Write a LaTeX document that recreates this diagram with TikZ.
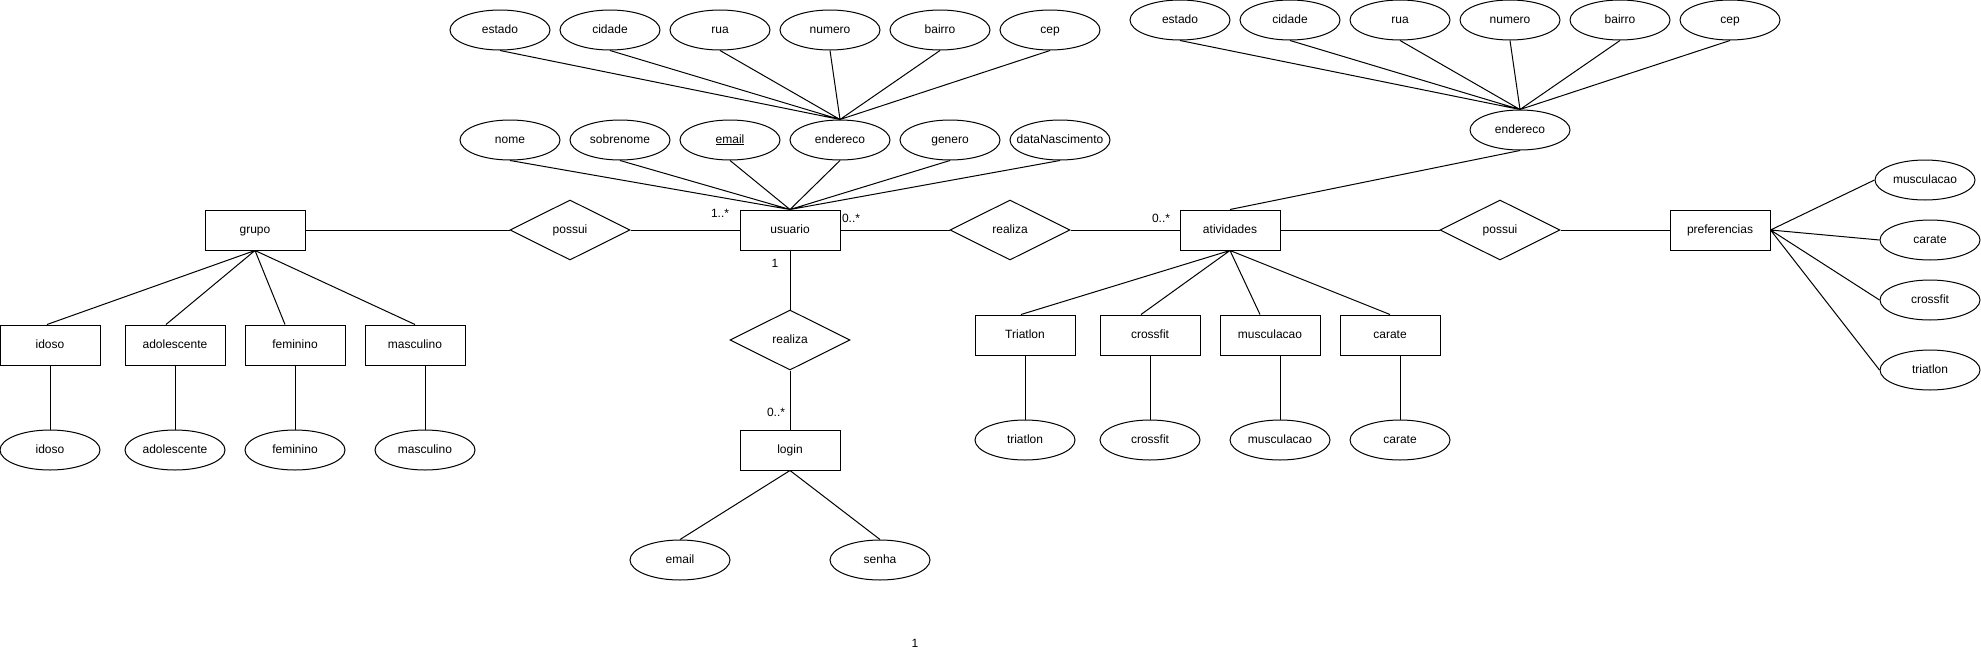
\documentclass[tikz,border=0pt]{standalone}
\usepackage{fontspec}
\setmainfont{Liberation Sans}
\usepackage{tikz}
\usetikzlibrary{shapes}

\begin{document}
\begin{tikzpicture}[x=1pt,y=-1pt,line width=1pt,
	every node/.style={font=\fontsize{12}{14}\selectfont,text height=8.6pt,text depth=2.5pt},
	entity/.style={draw,rectangle,minimum width=100pt,minimum height=40pt,inner sep=0pt},
	attrib/.style={draw,ellipse,minimum width=100pt,minimum height=40pt,inner sep=0pt,
		execute at begin node=\hbox to 0pt\bgroup\hss,
		execute at end node=\hss\egroup},
	relation/.style={draw,diamond,aspect=2,minimum width=120pt,minimum height=60pt,inner sep=0pt},
	card/.style={inner sep=0pt}]

	\useasboundingbox (0,0) rectangle (1981,653);

	% Draw entities and relations
	\node[entity] (grupo) at (255,230) {grupo};
	\node[relation] (possuiA) at (570,230) {possui};
	\node[entity] (usuario) at (790,230) {usuario};
	\node[relation] (realizaA) at (1010,230) {realiza};
	\node[entity] (atividades) at (1230,230) {atividades};
	\node[relation] (possuiB) at (1500,230) {possui};
	\node[entity] (preferencias) at (1720,230) {preferencias};
	\node[relation] (realizaB) at (790,340) {realiza};
	\node[entity] (login) at (790,450) {login};

	\draw (grupo.east) -- (possuiA.west) (possuiA.east) -- (usuario.west);
	\draw (usuario.east) -- (realizaA.west) (realizaA.east) -- (atividades.west);
	\draw (atividades.east) -- (possuiB.west) (possuiB.east) -- (preferencias.west);
	\draw (usuario.south) -- (realizaB.north) (realizaB.south) -- (login.north);

	% Draw cardinalities
	\node[card] (cUsuGrp) at (720,214) {1..*};
	\node[card] (cUsuAtv) at (851,219) {0..*};
	\node[card] (cAtvUsu) at (1161,219) {0..*};
	\node[card] (cUsuLog) at (775,264) {1};
	\node[card] (cLogUsu) at (776,413) {0..*};
	\node[card] (cLoose) at (915,644) {1};

	% Draw usuario attributes
	\node[attrib] (uNome) at (510,140) {nome};
	\node[attrib] (uSobrenome) at (620,140) {sobrenome};
	\node[attrib] (uEmail) at (730,140) {\underline{email}};
	\node[attrib] (uEndereco) at (840,140) {endereco};
	\node[attrib] (uGenero) at (950,140) {genero};
	\node[attrib] (uNascimento) at (1060,140) {dataNascimento};
	\draw (uNome.south) -- (usuario.north) (uSobrenome.south) -- (usuario.north)
		(uEmail.south) -- (usuario.north) (uEndereco.south) -- (usuario.north)
		(uGenero.south) -- (usuario.north) (uNascimento.south) -- (usuario.north);

	% Draw usuario endereco
	\node[attrib] (uEstado) at (500,30) {estado};
	\node[attrib] (uCidade) at (610,30) {cidade};
	\node[attrib] (uRua) at (720,30) {rua};
	\node[attrib] (uNumero) at (830,30) {numero};
	\node[attrib] (uBairro) at (940,30) {bairro};
	\node[attrib] (uCep) at (1050,30) {cep};
	\draw (uEstado.south) -- (uEndereco.north) (uCidade.south) -- (uEndereco.north)
		(uRua.south) -- (uEndereco.north) (uNumero.south) -- (uEndereco.north)
		(uBairro.south) -- (uEndereco.north) (uCep.south) -- (uEndereco.north);

	% Draw atividades endereco
	\node[attrib] (aEndereco) at (1520,130) {endereco};
	\node[attrib] (aEstado) at (1180,20) {estado};
	\node[attrib] (aCidade) at (1290,20) {cidade};
	\node[attrib] (aRua) at (1400,20) {rua};
	\node[attrib] (aNumero) at (1510,20) {numero};
	\node[attrib] (aBairro) at (1620,20) {bairro};
	\node[attrib] (aCep) at (1730,20) {cep};
	\draw (aEstado.south) -- (aEndereco.north) (aCidade.south) -- (aEndereco.north)
		(aRua.south) -- (aEndereco.north) (aNumero.south) -- (aEndereco.north)
		(aBairro.south) -- (aEndereco.north) (aCep.south) -- (aEndereco.north);
	\draw (aEndereco.south) -- (atividades.north);

	% Draw login attributes
	\node[attrib] (lEmail) at (680,560) {email};
	\node[attrib] (lSenha) at (880,560) {senha};
	\draw (login.south) -- (lEmail.north) (login.south) -- (lSenha.north);

	% Draw grupo specializations
	\node[entity] (gIdoso) at (50,345) {idoso};
	\node[entity] (gAdolescente) at (175,345) {adolescente};
	\node[entity] (gFeminino) at (295,345) {feminino};
	\node[entity] (gMasculino) at (415,345) {masculino};
	\node[attrib] (eIdoso) at (50,450) {idoso};
	\node[attrib] (eAdolescente) at (175,450) {adolescente};
	\node[attrib] (eFeminino) at (295,450) {feminino};
	\node[attrib] (eMasculino) at (425,450) {masculino};
	\draw (grupo.south) -- ([xshift=-3pt]gIdoso.north) (grupo.south) -- ([xshift=-9pt]gAdolescente.north)
		(grupo.south) -- ([xshift=-10pt]gFeminino.north) (grupo.south) -- (gMasculino.north);
	\draw (eIdoso.north) -- (eIdoso.north |- gIdoso.south)
		(eAdolescente.north) -- (eAdolescente.north |- gAdolescente.south)
		(eFeminino.north) -- (eFeminino.north |- gFeminino.south)
		(eMasculino.north) -- (eMasculino.north |- gMasculino.south);

	% Draw atividades specializations
	\node[entity] (aTriatlon) at (1025,335) {Triatlon};
	\node[entity] (aCrossfit) at (1150,335) {crossfit};
	\node[entity] (aMusculacao) at (1270,335) {musculacao};
	\node[entity] (aCarate) at (1390,335) {carate};
	\node[attrib] (eTriatlon) at (1025,440) {triatlon};
	\node[attrib] (eCrossfit) at (1150,440) {crossfit};
	\node[attrib] (eMusculacao) at (1280,440) {musculacao};
	\node[attrib] (eCarate) at (1400,440) {carate};
	\draw (atividades.south) -- ([xshift=-4pt]aTriatlon.north) (atividades.south) -- ([xshift=-9pt]aCrossfit.north)
		(atividades.south) -- ([xshift=-10pt]aMusculacao.north) (atividades.south) -- (aCarate.north);
	\draw (eTriatlon.north) -- (eTriatlon.north |- aTriatlon.south)
		(eCrossfit.north) -- (eCrossfit.north |- aCrossfit.south)
		(eMusculacao.north) -- (eMusculacao.north |- aMusculacao.south)
		(eCarate.north) -- (eCarate.north |- aCarate.south);

	% Draw preferencias attributes
	\node[attrib] (pMusculacao) at (1925,180) {musculacao};
	\node[attrib] (pCarate) at (1930,240) {carate};
	\node[attrib] (pCrossfit) at (1930,300) {crossfit};
	\node[attrib] (pTriatlon) at (1930,370) {triatlon};
	\draw (preferencias.east) -- (pMusculacao.west) (preferencias.east) -- (pCarate.west)
		(preferencias.east) -- (pCrossfit.west) (preferencias.east) -- (pTriatlon.west);

\end{tikzpicture}
\end{document}
